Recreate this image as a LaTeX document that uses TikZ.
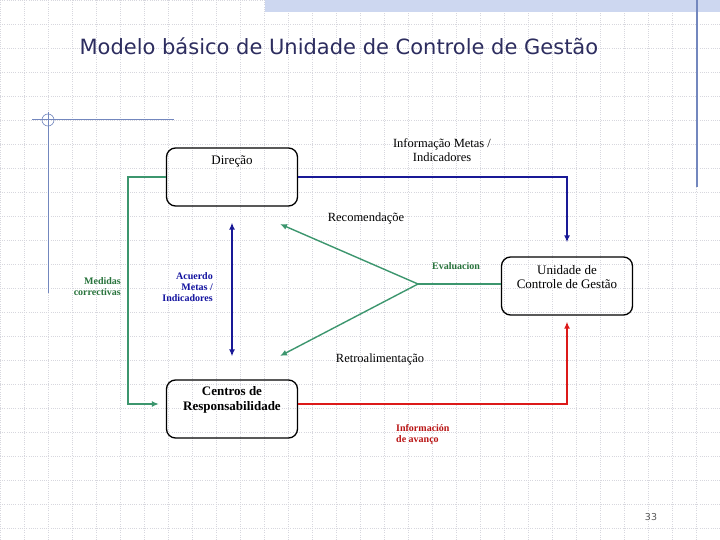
\documentclass[tikz,border=0pt]{standalone}
\usepackage{fontspec}
\usetikzlibrary{arrows.meta}
\setmainfont{Liberation Serif}
\newfontfamily\slidefont{DejaVu Sans}
\definecolor{titlec}{RGB}{45,45,95}
\definecolor{gridc}{RGB}{215,215,222}
\definecolor{decor}{RGB}{115,135,190}
\definecolor{bandc}{RGB}{205,215,240}
\definecolor{navyc}{RGB}{25,25,150}
\definecolor{fbgreen}{RGB}{60,150,110}
\definecolor{lblgreen}{RGB}{40,115,60}
\definecolor{lblblue}{RGB}{20,20,160}
\definecolor{redc}{RGB}{220,25,25}
\definecolor{lblred}{RGB}{185,20,20}

\begin{document}
\begin{tikzpicture}[x=1pt,y=-1pt,font=\fontsize{12.5}{14}\selectfont,
  >={Latex[length=7pt,width=6pt]},
  box/.style={draw,line width=1.3pt,rounded corners=9pt,minimum width=131pt,minimum height=58pt},
  boxtxt/.style={align=center,inner sep=0pt},
  conn/.style={line width=1.4pt},
  lbl/.style={font=\bfseries\fontsize{10}{11}\selectfont,inner sep=0pt}]
  \useasboundingbox (0,0) rectangle (720,540);
  \fill[white] (0,0) rectangle (720,540);
  % slide background
  \draw[gridc,line width=0.5pt,dash pattern=on 1pt off 1.2pt] (0,0) grid[xstep=24pt,ystep=24pt] (720,540);
  \fill[bandc] (265,0) rectangle (720,12);
  \draw[decor,line width=1pt] (32,120) -- (174,120);
  \draw[decor,line width=1pt] (48,112) -- (48,293);
  \draw[decor,line width=0.6pt] (48,120) circle (6pt);
  \draw[decor,line width=1.2pt] (697,0) -- (697,187);
  \node[font=\slidefont\fontsize{21}{24}\selectfont,text=titlec,anchor=west] (title) at (76,46) {Modelo básico de Unidade de Controle de Gestão};
  \node[font=\slidefont\fontsize{9.5}{11}\selectfont,text=gray!70!black] (pg) at (651,517) {33};

  % boxes
  \node[box] (dir) at (232,177) {};
  \node[box] (cr) at (232,409) {};
  \node[box] (ucg) at (567,286) {};
  \node[boxtxt,font=\fontsize{13}{14.5}\selectfont] (dirt) at (232,162) {Direção};
  \node[boxtxt,font=\bfseries\fontsize{13}{14.5}\selectfont] (crt) at (232,400) {Centros de\\Responsabilidade};
  \node[boxtxt,font=\fontsize{13}{14.5}\selectfont] (ucgt) at (567,277) {Unidade de\\Controle de Gestão};

  % connectors
  \draw[navyc,conn,->,shorten >=14pt] (dir.east) -| (ucg.north);
  \draw[redc,conn,->,shorten >=6pt] ([yshift=5pt]cr.east) -| (ucg.south);
  \draw[fbgreen,conn,->,shorten >=7pt] (dir.west) -- ++(-38,0) |- ([yshift=5pt]cr.west);
  \draw[navyc,conn,<->,shorten <=16pt,shorten >=23pt] (dir) -- (cr);
  \coordinate (ev) at (418,284);
  \coordinate (rec) at (280,224);
  \coordinate (retro) at (280,356);
  \draw[fbgreen,conn] (ucg.west |- ev) -- (ev);
  \draw[fbgreen,conn,->] (ev) -- (rec);
  \draw[fbgreen,conn,->] (ev) -- (retro);

  % labels
  \node[boxtxt] (info) at (442,150) {Informação Metas /\\Indicadores};
  \node[boxtxt] (recl) at (366,218) {Recomendaçõe};
  \node[boxtxt] (retl) at (380,359) {Retroalimentação};
  \node[lbl,text=lblgreen] (evl) at (456,266) {Evaluacion};
  \node[lbl,text=lblgreen,align=right,anchor=east] (med) at (121,287) {Medidas\\correctivas};
  \node[lbl,text=lblblue,align=right,anchor=east] (acu) at (213,287) {Acuerdo\\Metas /\\Indicadores};
  \node[lbl,text=lblred,align=left,anchor=west] (avl) at (396,435) {Información\\de avanço};
\end{tikzpicture}
\end{document}
